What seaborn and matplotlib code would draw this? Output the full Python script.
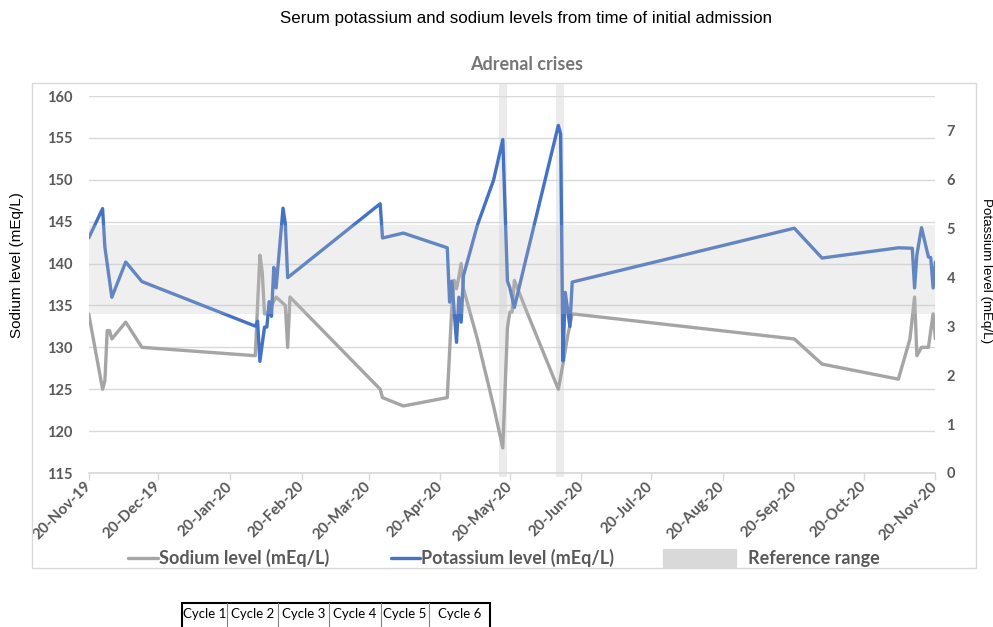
import pandas as pd
import matplotlib
matplotlib.use("Agg")
import matplotlib.pyplot as plt
import matplotlib.dates as mdates
import matplotlib.patches as mpatches
from matplotlib.lines import Line2D
import seaborn as sns

# --- Data ---
sodium_dates = ["2019-11-20", "2019-11-26", "2019-11-27", "2019-11-28", "2019-11-29", "2019-11-30",
                "2019-12-06", "2019-12-13", "2020-01-31", "2020-02-02", "2020-02-03", "2020-02-04",
                "2020-02-05", "2020-02-09", "2020-02-13", "2020-02-14", "2020-02-15", "2020-03-25",
                "2020-03-26", "2020-04-04", "2020-04-23", "2020-04-25", "2020-04-26", "2020-04-27",
                "2020-04-28", "2020-04-29", "2020-04-30", "2020-05-06", "2020-05-13", "2020-05-17",
                "2020-05-19", "2020-05-20", "2020-05-21", "2020-05-22", "2020-05-27", "2020-06-10",
                "2020-06-12", "2020-06-14", "2020-06-16", "2020-09-20", "2020-10-02", "2020-11-04",
                "2020-11-09", "2020-11-11", "2020-11-12", "2020-11-14", "2020-11-17", "2020-11-19",
                "2020-11-20"]
sodium_level = [134, 125, 126, 132, 132, 131,
                133, 130, 129, 141, 139, 134,
                134, 136, 135, 130, 136, 125,
                124, 123, 124, 135, 138, 137,
                138.4, 140, 137, 131, 123, 118,
                132.3, 134.2, 134.2, 138, 134.5, 125,
                128, 131.3, 134, 131, 128, 126.2,
                131, 136, 129, 130, 130, 134,
                131]

potassium_dates = ["2019-11-20", "2019-11-26", "2019-11-27", "2019-11-30", "2019-12-06", "2019-12-13",
                   "2020-01-31", "2020-02-01", "2020-02-02", "2020-02-04", "2020-02-05", "2020-02-06",
                   "2020-02-07", "2020-02-08", "2020-02-09", "2020-02-12", "2020-02-13", "2020-02-14",
                   "2020-03-25", "2020-03-26", "2020-04-04", "2020-04-23", "2020-04-24", "2020-04-25",
                   "2020-04-27", "2020-04-28", "2020-04-29", "2020-04-30", "2020-05-06", "2020-05-13",
                   "2020-05-17", "2020-05-19", "2020-05-20", "2020-05-22", "2020-05-27", "2020-06-10",
                   "2020-06-11", "2020-06-12", "2020-06-13", "2020-06-15", "2020-06-16", "2020-09-20",
                   "2020-10-02", "2020-11-04", "2020-11-10", "2020-11-11", "2020-11-12", "2020-11-14",
                   "2020-11-17", "2020-11-18", "2020-11-19", "2020-11-20"]
potassium_level = [4.80, 5.40, 4.61, 3.59, 4.31, 3.91,
                   3.00, 3.10, 2.28, 2.98, 2.98, 3.50,
                   3.20, 4.20, 3.78, 5.41, 5.09, 3.99,
                   5.50, 4.80, 4.90, 4.60, 3.49, 3.92,
                   2.67, 3.59, 3.08, 4.03, 5.06, 5.98,
                   6.81, 3.92, 3.79, 3.38, 4.37, 7.10,
                   6.92, 2.29, 3.69, 2.99, 3.90, 5.00,
                   4.39, 4.60, 4.59, 3.78, 4.46, 5.01,
                   4.41, 4.40, 3.78, 4.31]

# reference range (on sodium axis) and adrenal crisis windows
ref_range = (134, 144.6)
crisis_start = ["2020-05-15 12:00", "2020-06-09 00:00"]
crisis_end = ["2020-05-19 00:00", "2020-06-12 12:00"]

cycle_labels = ["Cycle 1", "Cycle 2", "Cycle 3", "Cycle 4", "Cycle 5", "Cycle 6"]

# --- Style ---
NA_COLOR = "#A5A5A5"
K_COLOR = "#4472C4"
TXT = "#595959"
GRID = "#D9D9D9"
W, H = 993, 627

df_na = pd.DataFrame({"date": pd.to_datetime(sodium_dates), "level": sodium_level})
df_k = pd.DataFrame({"date": pd.to_datetime(potassium_dates), "level": potassium_level})

sns.set_theme(style="white")
plt.rcParams["font.family"] = ["Lato", "DejaVu Sans"]
ARIAL = ["Liberation Sans", "DejaVu Sans"]

fig = plt.figure(figsize=(W / 100, H / 100), dpi=100)
ax = fig.add_axes([88.7 / W, 1 - 473 / H, 846.7 / W, 377 / H])
ax2 = ax.twinx()

sns.lineplot(data=df_na, x="date", y="level", ax=ax, color=NA_COLOR, lw=2.4,
             estimator=None, legend=False)
sns.lineplot(data=df_k, x="date", y="level", ax=ax2, color=K_COLOR, lw=2.4,
             estimator=None, legend=False)

# crisis windows sit under the lines
for s, e in zip(crisis_start, crisis_end):
    ax.axvspan(pd.Timestamp(s), pd.Timestamp(e), ymin=-0.01, ymax=1.034,
               color="#D9D9D9", alpha=0.5, lw=0, zorder=0.3, clip_on=False)

# reference range is a translucent band laid over both lines (as in the original)
ax2.add_patch(mpatches.Rectangle((0, ref_range[0]), 1, ref_range[1] - ref_range[0],
                                 transform=ax.get_yaxis_transform(), facecolor="#C3C3C3",
                                 alpha=0.25, lw=0, zorder=5))

# --- Axes ---
ax.set_xlim(pd.Timestamp("2019-11-20"), pd.Timestamp("2020-11-20"))
ax.set_ylim(115, 160)
ax.set_yticks(range(115, 161, 5))
ax2.set_ylim(0, 7.7)
ax2.set_yticks(range(0, 8))

ax.set_axisbelow(True)
ax.yaxis.grid(True, color=GRID, lw=1.0)
ax.xaxis.grid(False)
for a in (ax, ax2):
    for sp in a.spines.values():
        sp.set_visible(False)
    a.set_xlabel("")
    a.set_ylabel("")
ax.spines["bottom"].set_visible(True)
ax.spines["bottom"].set_color(GRID)

tick_dates = [pd.Timestamp("2019-11-20") + pd.DateOffset(months=i) for i in range(13)]
ax.set_xticks(tick_dates)
ax.xaxis.set_major_formatter(mdates.DateFormatter("%d-%b-%y"))
ax.tick_params(axis="x", bottom=True, length=5, width=1, color=GRID, pad=3,
               labelsize=11, labelcolor=TXT)
for lab in ax.get_xticklabels():
    lab.set_rotation(45)
    lab.set_ha("right")
    lab.set_va("center")
    lab.set_rotation_mode("anchor")
    lab.set_fontweight("bold")

ax.tick_params(axis="y", left=False, length=0, pad=12, labelsize=10.5, labelcolor=TXT)
ax2.tick_params(axis="y", right=False, length=0, pad=8, labelsize=10.5, labelcolor=TXT)
for lab in ax.get_yticklabels() + ax2.get_yticklabels():
    lab.set_fontweight("bold")

# --- Texts ---
fig.text(526 / W, 1 - 18 / H, "Serum potassium and sodium levels from time of initial admission",
         ha="center", va="center", fontsize=12.2, family=ARIAL, color="black")
fig.text(527 / W, 1 - 65 / H, "Adrenal crises", ha="center", va="center",
         fontsize=13, fontweight="bold", color="#767676")
fig.text(17 / W, 1 - 265 / H, "Sodium level (mEq/L)", rotation=90, ha="center", va="center",
         fontsize=11, family=ARIAL, color="black")
fig.text(986 / W, 1 - 271 / H, "Potassium level (mEq/L)", rotation=-90, ha="center", va="center",
         fontsize=9.6, family=ARIAL, color="black")

# chart area border
fig.patches.append(mpatches.Rectangle((32 / W, 1 - 568 / H), 944 / W, 485 / H,
                                      transform=fig.transFigure, fill=False,
                                      edgecolor="#D9D9D9", lw=1))

# --- Legend: two line entries, then the reference-range patch ---
line_handles = [Line2D([], [], color=NA_COLOR, lw=2.4),
                Line2D([], [], color=K_COLOR, lw=2.4)]
leg1 = fig.legend(line_handles, ["Sodium level (mEq/L)", "Potassium level (mEq/L)"],
                  loc="center left", bbox_to_anchor=(128 / W, 1 - 558 / H), ncol=2,
                  frameon=False, handlelength=1.66, handletextpad=0.05, columnspacing=3.4,
                  borderpad=0, borderaxespad=0, prop={"weight": "bold", "size": 13})
leg2 = fig.legend([mpatches.Patch(color="#D9D9D9")], ["Reference range"],
                  loc="center left", bbox_to_anchor=(663 / W, 1 - 558 / H),
                  frameon=False, handlelength=4.04, handleheight=1.2, handletextpad=0.66,
                  borderpad=0, borderaxespad=0, prop={"weight": "bold", "size": 13})
for lg in (leg1, leg2):
    for t in lg.get_texts():
        t.set_color(TXT)

# --- Cycle table under the chart ---
cell_edges = [182, 227, 278, 329, 381, 429, 490]
top, bottom = 603, 640
for i, name in enumerate(cycle_labels):
    x0, x1 = cell_edges[i], cell_edges[i + 1]
    fig.text((x0 + x1) / 2 / W, 1 - 614 / H, name, ha="center", va="center",
             fontsize=9.5, color="black")
    if i > 0:
        fig.lines.append(Line2D([x0 / W, x0 / W], [1 - top / H, 1 - bottom / H],
                                transform=fig.transFigure, color="#808080", lw=0.8))
fig.patches.append(mpatches.Rectangle((cell_edges[0] / W, 1 - bottom / H),
                                      (cell_edges[-1] - cell_edges[0]) / W, (bottom - top) / H,
                                      transform=fig.transFigure, fill=False,
                                      edgecolor="black", lw=1.5))

fig.savefig("out.png", dpi=100)
